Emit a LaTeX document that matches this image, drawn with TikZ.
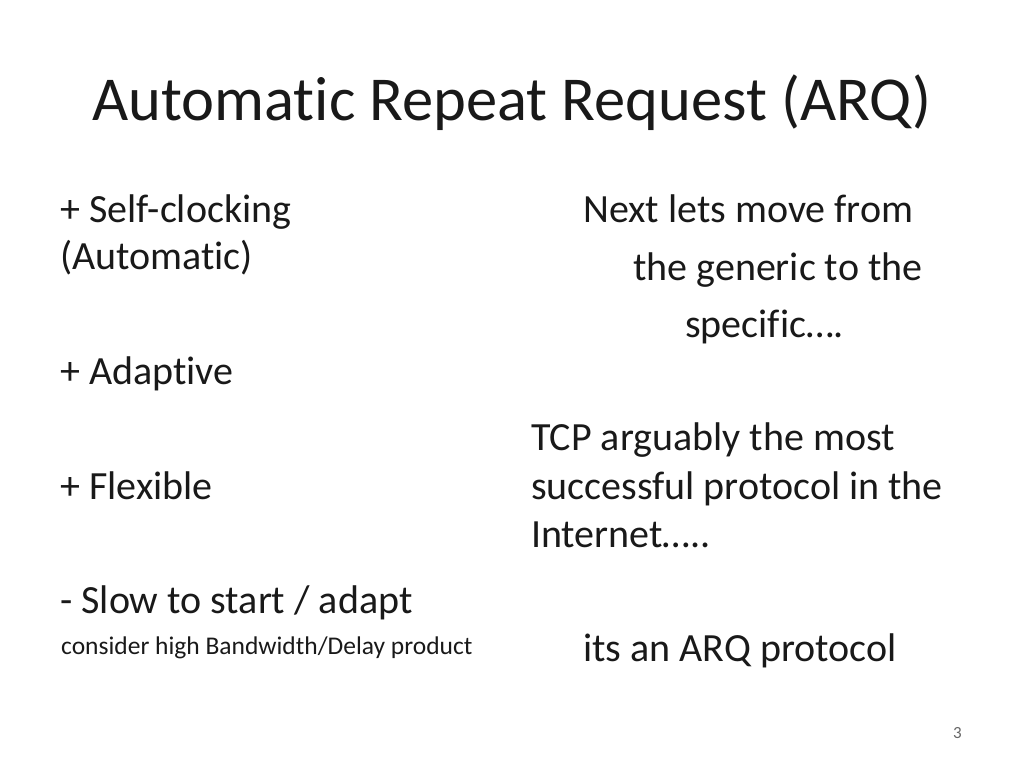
\documentclass[tikz,border=0pt]{standalone}
\usepackage{fontspec}
\setmainfont[Ligatures=NoCommon]{Carlito}
\begin{document}
\begin{tikzpicture}[x=1pt,y=-1pt,
  t/.style={anchor=base west,inner sep=0pt,font=\fontsize{40}{46}\selectfont,text=black!90},
  s/.style={anchor=base west,inner sep=0pt,font=\fontsize{25.5}{29}\selectfont,text=black!90}]
\useasboundingbox[fill=white] (0,0) rectangle (1024,768);
\node[anchor=base west,inner sep=0pt,font=\fontsize{62.5}{70}\selectfont,text=black!90] (title) at (92,120) {Automatic Repeat Request (ARQ)};
\node[t] (l1) at (60,222) {+ Self-clocking};
\node[t] (l2) at (60,269) {(Automatic)};
\node[t] (l3) at (60,384) {+ Adaptive};
\node[t] (l4) at (60,499) {+ Flexible};
\node[t] (l5) at (60,613) {- Slow to start / adapt};
\node[s] (l6) at (61,654) {consider high Bandwidth/Delay product};
\node[t] (r1) at (583,222) {Next lets move from};
\node[t] (r2) at (633,280) {the generic to the};
\node[t] (r3) at (685,337) {specific….};
\node[t] (r4) at (531,450) {TCP arguably the most};
\node[t] (r5) at (531,499) {successful protocol in the};
\node[t] (r6) at (531,547) {Internet…..};
\node[t] (r7) at (583,661) {its an ARQ protocol};
\node[anchor=base west,inner sep=0pt,font=\fontsize{17}{19}\selectfont,text=black!60] (pn) at (953,738) {3};
\end{tikzpicture}
\end{document}
